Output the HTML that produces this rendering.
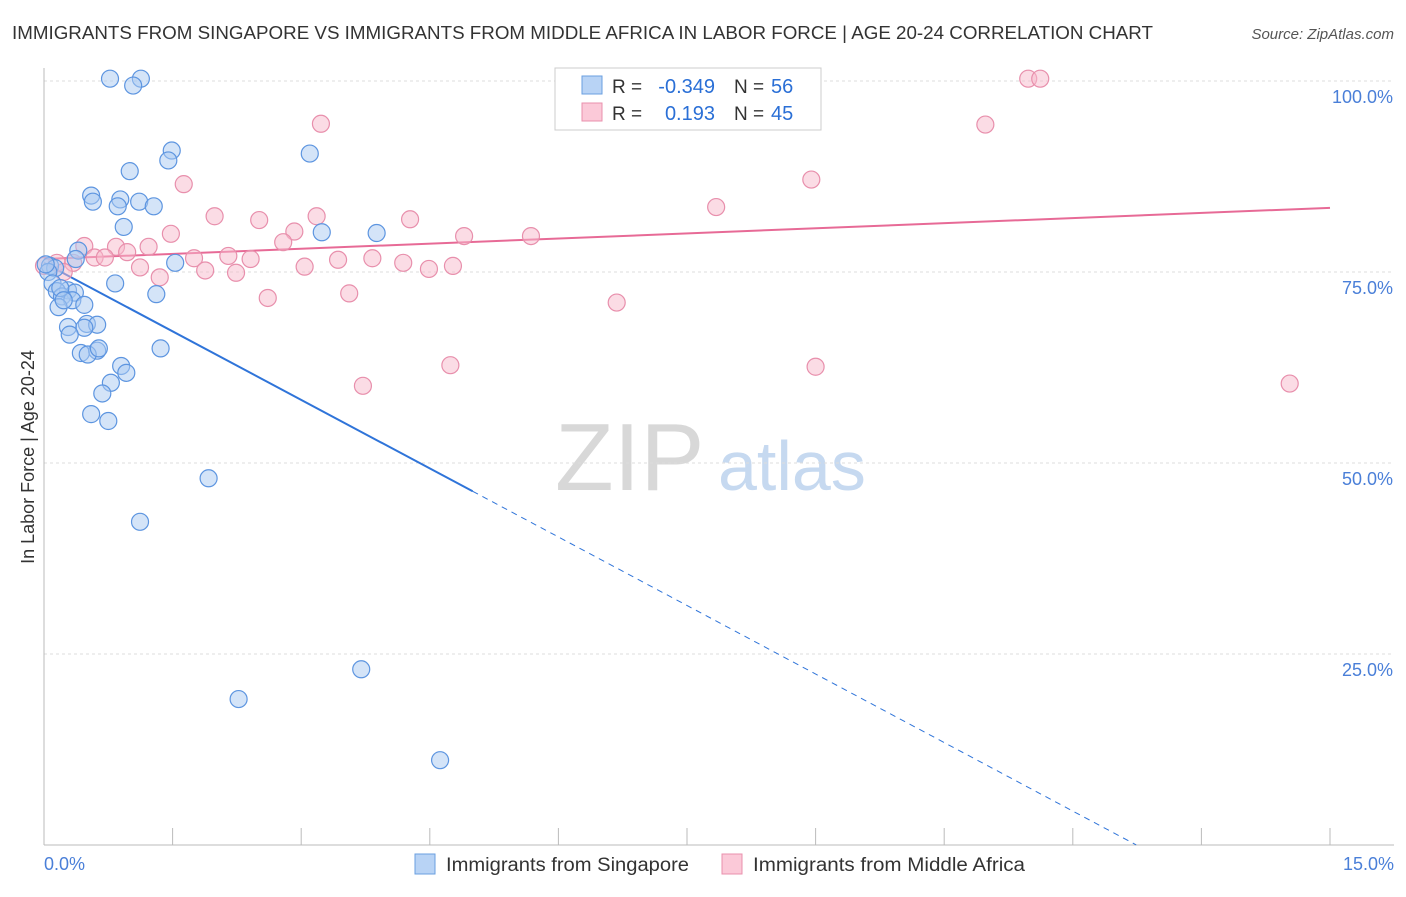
<!DOCTYPE html>
<html><head><meta charset="utf-8"><style>
body{margin:0;background:#fff;font-family:"Liberation Sans",sans-serif;}
svg text{font-family:"Liberation Sans",sans-serif;}
</style></head><body>
<svg id="chart" width="1406" height="892" xmlns="http://www.w3.org/2000/svg">
<text x="12" y="39" font-size="18" fill="#333" textLength="1141" lengthAdjust="spacingAndGlyphs">IMMIGRANTS FROM SINGAPORE VS IMMIGRANTS FROM MIDDLE AFRICA IN LABOR FORCE | AGE 20-24 CORRELATION CHART</text>
<text x="1394" y="39" font-size="15" fill="#555" font-style="italic" text-anchor="end">Source: ZipAtlas.com</text>
<g>
<text x="555" y="490" font-size="96" font-family="Liberation Serif" fill="#d8d8d8">ZIP</text>
<text x="718" y="490" font-size="70" fill="#c6d9f0">atlas</text>
</g>
<g id="grid"></g>
<g id="axes"></g>
<g id="lines"></g>
<g id="points"></g>
<text transform="translate(34,457) rotate(-90)" font-size="18" fill="#333" text-anchor="middle">In Labor Force | Age 20-24</text>
<text x="44" y="870" font-size="18" fill="#4a7fd8">0.0%</text>
<text x="1394" y="870" font-size="18" fill="#4a7fd8" text-anchor="end">15.0%</text>
<g>
<rect x="555" y="68" width="266" height="62" fill="#fff" stroke="#ccc"/>
<rect x="582" y="76" width="20" height="18" fill="#b8d3f5" stroke="#6a9fe0"/>
<rect x="582" y="103" width="20" height="18" fill="#fbc9d8" stroke="#e990ad"/>
<text x="612" y="93" font-size="19" fill="#333">R =</text>
<text x="715" y="93" font-size="20" fill="#2a6fd6" text-anchor="end">-0.349</text>
<text x="734" y="93" font-size="19" fill="#333">N =</text>
<text x="771" y="93" font-size="20" fill="#2a6fd6">56</text>
<text x="612" y="120" font-size="19" fill="#333">R =</text>
<text x="715" y="120" font-size="20" fill="#2a6fd6" text-anchor="end">0.193</text>
<text x="734" y="120" font-size="19" fill="#333">N =</text>
<text x="771" y="120" font-size="20" fill="#2a6fd6">45</text>
</g>
<g>
<rect x="415" y="854" width="20" height="20" fill="#b8d3f5" stroke="#6a9fe0"/>
<text x="446" y="871" font-size="19" fill="#333" textLength="243" lengthAdjust="spacingAndGlyphs">Immigrants from Singapore</text>
<rect x="722" y="854" width="20" height="20" fill="#fbc9d8" stroke="#e990ad"/>
<text x="753" y="871" font-size="19" fill="#333" textLength="272" lengthAdjust="spacingAndGlyphs">Immigrants from Middle Africa</text>
</g>
</svg>
<script>
const blueX=[0.77,1.13,1.04,1.49,1.45,3.10,1.00,0.55,0.57,0.89,0.86,1.11,1.28,0.93,3.24,3.88,0.40,0.37,1.53,0.07,0.13,0.05,0.10,0.83,0.28,0.15,0.36,0.21,0.33,0.17,0.47,1.31,0.28,0.50,0.62,0.47,0.30,0.43,0.62,0.51,0.64,1.36,0.90,0.96,0.78,0.68,0.55,0.75,1.92,1.12,3.70,2.27,4.62,0.19,0.23,0.02];
const blueY=[100.3,100.3,99.4,90.9,89.6,90.5,88.2,85.0,84.2,84.5,83.6,84.2,83.6,80.9,80.2,80.1,77.8,76.7,76.2,75.8,75.5,75.0,73.5,73.5,72.6,72.5,72.3,71.8,71.3,70.4,70.7,72.1,67.8,68.2,68.1,67.7,66.8,64.4,64.7,64.2,65.0,65.0,62.7,61.8,60.5,59.1,56.4,55.5,48.0,42.3,23.0,19.1,11.1,72.9,71.3,76.0];
const pinkX=[11.48,11.62,3.23,10.98,1.63,7.84,8.95,1.99,2.51,3.18,4.27,1.48,2.92,2.79,4.90,5.68,0.47,0.84,1.22,0.97,1.75,2.15,2.41,0.59,0.71,0.15,0.34,0.00,0.23,1.12,1.88,2.24,3.04,3.43,3.83,4.19,4.49,4.77,1.35,2.61,3.56,6.68,3.72,4.74,9.00,14.53];
const pinkY=[100.3,100.3,94.4,94.3,86.5,83.5,87.1,82.3,81.8,82.3,81.9,80.0,80.3,78.9,79.7,79.7,78.4,78.3,78.3,77.6,76.8,77.1,76.7,76.9,76.9,76.2,76.2,75.8,75.0,75.6,75.2,74.9,75.7,76.6,76.8,76.2,75.4,75.8,74.3,71.6,72.2,71.0,60.1,62.8,62.6,60.4];
const yTicks=[25,50,75,100];
const yTickLabels=["25.0%","50.0%","75.0%","100.0%"];
const xTicks=[0,1.5,3,4.5,6,7.5,9,10.5,12,13.5,15];
const blueTrend=[76.2,46.3];
const blueTrendSolidEnd=5.0;
const blueTrendEnd=12.74;
const pinkTrend=[76.7,83.4];
const NS="http://www.w3.org/2000/svg";
const xs=v=>44+v/15*1286;
const ys=v=>845-v*7.64;
function mk(tag,attrs,parent){const e=document.createElementNS(NS,tag);for(const k in attrs)e.setAttribute(k,attrs[k]);document.getElementById(parent).appendChild(e);return e;}
yTicks.forEach((t,i)=>{
 const g=mk('line',{x1:44,x2:1394,y1:ys(t),y2:ys(t),stroke:'#ddd','stroke-dasharray':'3,3'},'grid');
 
 
 const l=mk('text',{x:1393,y:ys(t)+22,'font-size':18,fill:'#4a7fd8','text-anchor':'end'},'grid');
 l.textContent=yTickLabels[i];
 
 
});
const ax=mk('line',{x1:44,x2:1394,y1:845,y2:845,stroke:'#bbb'},'axes');


const ay=mk('line',{x1:44,x2:44,y1:68,y2:845,stroke:'#bbb'},'axes');


xTicks.forEach(t=>{
 const k=mk('line',{x1:xs(t),x2:xs(t),y1:828,y2:845,stroke:'#bbb'},'axes');
 
 
});
function pts(X,Y,fill,stroke,name){
 X.forEach((x,i)=>{
  const c=mk('circle',{cx:xs(x),cy:ys(Y[i]),r:8.5,fill:fill,'fill-opacity':0.5,stroke:stroke,'stroke-width':1.2},'points');
  
  
 });
}
pts(pinkX,pinkY,'#f7b9cc','#e88fac','point-middle-africa');
pts(blueX,blueY,'#a9c9f2','#5d95e0','point-singapore');
const slope=(blueTrend[1]-blueTrend[0])/blueTrendSolidEnd;
const b1=mk('line',{x1:xs(0),y1:ys(blueTrend[0]),x2:xs(blueTrendSolidEnd),y2:ys(blueTrend[1]),stroke:'#2f74d9','stroke-width':2},'lines');


const b2=mk('line',{x1:xs(blueTrendSolidEnd),y1:ys(blueTrend[1]),x2:xs(blueTrendEnd),y2:ys(blueTrend[0]+slope*blueTrendEnd),stroke:'#2f74d9','stroke-width':1,'stroke-dasharray':'6,5'},'lines');


const p1=mk('line',{x1:xs(0),y1:ys(pinkTrend[0]),x2:xs(15),y2:ys(pinkTrend[1]),stroke:'#e76a96','stroke-width':2},'lines');


</script>
</body></html>
